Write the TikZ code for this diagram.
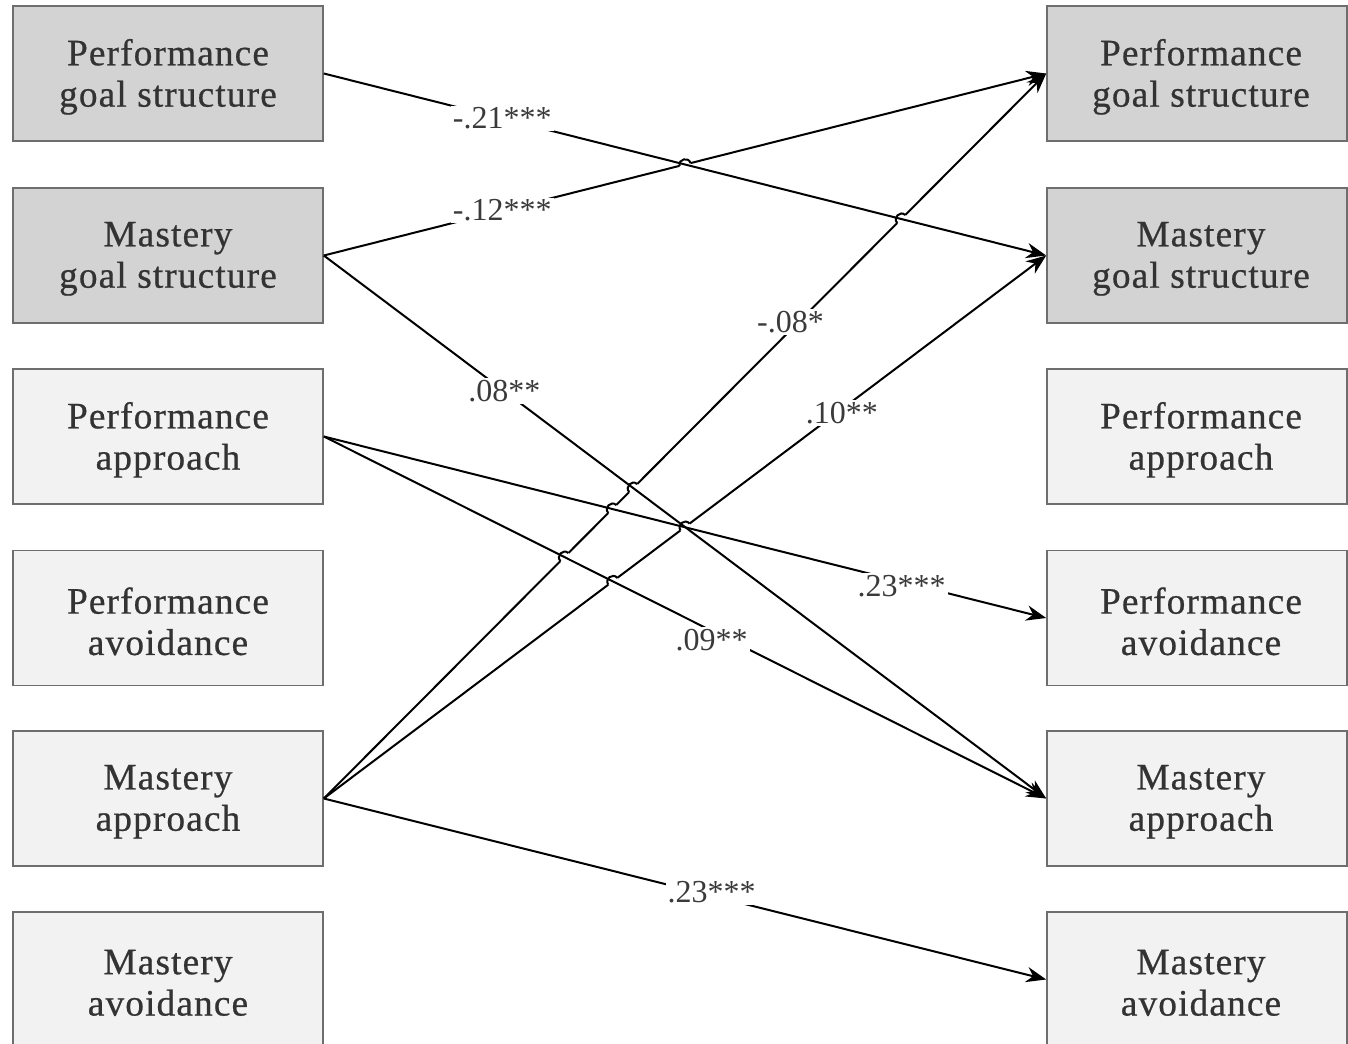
\documentclass[tikz,border=0pt]{standalone}
\usepackage{fontspec}
\setmainfont{Liberation Serif}
\newfontfamily\boxfont{Liberation Serif}[FakeBold=0.6, LetterSpace=3]
\usetikzlibrary{arrows.meta,intersections,calc}
\definecolor{gsfill}{HTML}{D3D3D3}
\definecolor{bxfill}{HTML}{F2F2F2}
\definecolor{bxline}{HTML}{6E6E6E}
\definecolor{txt}{HTML}{333333}
\definecolor{labtxt}{HTML}{3A3A3A}
\newcommand\hopat[3]{%
  \draw[white, line width=3.4pt] ($(#1)!4.2pt!(#2)$) -- ($(#1)!4.2pt!(#3)$);
  \draw[conn] ($(#1)!4.2pt!(#2)$) to[bend left=90, looseness=1.6] ($(#1)!4.2pt!(#3)$);
}
\begin{document}
\begin{tikzpicture}[x=0.75pt,y=-0.75pt,
  box/.style={draw=bxline, line width=1.2pt, fill=bxfill, minimum height=101.25pt, inner sep=0pt},
  lbox/.style={box, minimum width=232.5pt},
  rbox/.style={box, minimum width=225pt},
  gs/.style={fill=gsfill},
  btext/.style={align=center, font=\boxfont\fontsize{28}{31}\selectfont, text=txt, yshift=-2.5pt},
  conn/.style={draw=black, line width=1.5pt},
  arr/.style={conn, -{Stealth[length=15pt, width=11.5pt]}},
  lab/.style={fill=white, inner sep=1.5pt, text=labtxt, font=\fontsize{24}{26}\selectfont}
]
\useasboundingbox (0,0) rectangle (1348,1044);
\clip (0,0) rectangle (1348,1044);
\fill[white] (0,0) rectangle (1348,1044);

% left column
\node[lbox,gs] (lpgs) at (168,73.5) {};
\node[lbox,gs] (lmgs) at (168,255.5) {};
\node[lbox] (lpap) at (168,436.5) {};
\node[lbox] (lpav) at (168,618) {};
\node[lbox] (lmap) at (168,798.5) {};
\node[lbox] (lmav) at (168,979.5) {};
% right column
\node[rbox,gs] (rpgs) at (1197,73.5) {};
\node[rbox,gs] (rmgs) at (1197,255.5) {};
\node[rbox] (rpap) at (1197,436.5) {};
\node[rbox] (rpav) at (1197,618) {};
\node[rbox] (rmap) at (1197,798.5) {};
\node[rbox] (rmav) at (1197,979.5) {};

% box texts
\node[btext] (tlpgs) at (lpgs.center) {Performance\\goal structure};
\node[btext] (tlmgs) at (lmgs.center) {Mastery\\goal structure};
\node[btext] (tlpap) at (lpap.center) {Performance\\approach};
\node[btext] (tlpav) at (lpav.center) {Performance\\avoidance};
\node[btext] (tlmap) at (lmap.center) {Mastery\\approach};
\node[btext] (tlmav) at (lmav.center) {Mastery\\avoidance};
\node[btext, xshift=3pt] (trpgs) at (rpgs.center) {Performance\\goal structure};
\node[btext, xshift=3pt] (trmgs) at (rmgs.center) {Mastery\\goal structure};
\node[btext, xshift=3pt] (trpap) at (rpap.center) {Performance\\approach};
\node[btext, xshift=3pt] (trpav) at (rpav.center) {Performance\\avoidance};
\node[btext, xshift=3pt] (trmap) at (rmap.center) {Mastery\\approach};
\node[btext, xshift=3pt] (trmav) at (rmav.center) {Mastery\\avoidance};

% paths used for crossings
\path[name path=L1] (lpgs.east) -- (rmgs.west);
\path[name path=L3] (lmgs.east) -- (rmap.west);
\path[name path=L6] (lpap.east) -- (rpav.west);
\path[name path=L7] (lpap.east) -- (rmap.west);

% lines that hop
\draw[arr, name path=L2] (lmgs.east) -- (rpgs.west);
\draw[arr, name path=L4] (lmap.east) -- (rpgs.west);
\draw[arr, name path=L5] (lmap.east) -- (rmgs.west);

\path[name intersections={of=L2 and L1, by=X1}];
\path[name intersections={of=L4 and L1, by=X2}];
\path[name intersections={of=L4 and L3, by=X3}];
\path[name intersections={of=L4 and L6, by=X4}];
\path[name intersections={of=L4 and L7, by=X5}];
\path[name intersections={of=L5 and L3, by=X6}];
\path[name intersections={of=L5 and L7, by=X7}];

\hopat{X1}{lmgs.east}{rpgs.west}
\hopat{X2}{lmap.east}{rpgs.west}
\hopat{X3}{lmap.east}{rpgs.west}
\hopat{X4}{lmap.east}{rpgs.west}
\hopat{X5}{lmap.east}{rpgs.west}
\hopat{X6}{lmap.east}{rmgs.west}
\hopat{X7}{lmap.east}{rmgs.west}

% straight lines
\draw[arr] (lpgs.east) -- (rmgs.west);
\draw[arr] (lmgs.east) -- (rmap.west);
\draw[arr] (lpap.east) -- (rpav.west);
\draw[arr] (lpap.east) -- (rmap.west);
\draw[arr] (lmap.east) -- (rmav.west);

% labels
\path (lpgs.east) -- (rmgs.west) node[lab, pos=0.247] {-.21***};
\path (lmgs.east) -- (rpgs.west) node[lab, pos=0.247] {-.12***};
\path (lmgs.east) -- (rmap.west) node[lab, pos=0.25] {.08**};
\path (lmap.east) -- (rpgs.west) node[lab, pos=0.646, yshift=6pt] {-.08*};
\path (lmap.east) -- (rmgs.west) node[lab, pos=0.717, yshift=-3pt] {.10**};
\path (lpap.east) -- (rpav.west) node[lab, pos=0.80, yshift=-3pt] {.23***};
\path (lpap.east) -- (rmap.west) node[lab, pos=0.537, yshift=-7pt] {.09**};
\path (lmap.east) -- (rmav.west) node[lab, pos=0.537, yshift=3pt] {.23***};
\end{tikzpicture}
\end{document}
